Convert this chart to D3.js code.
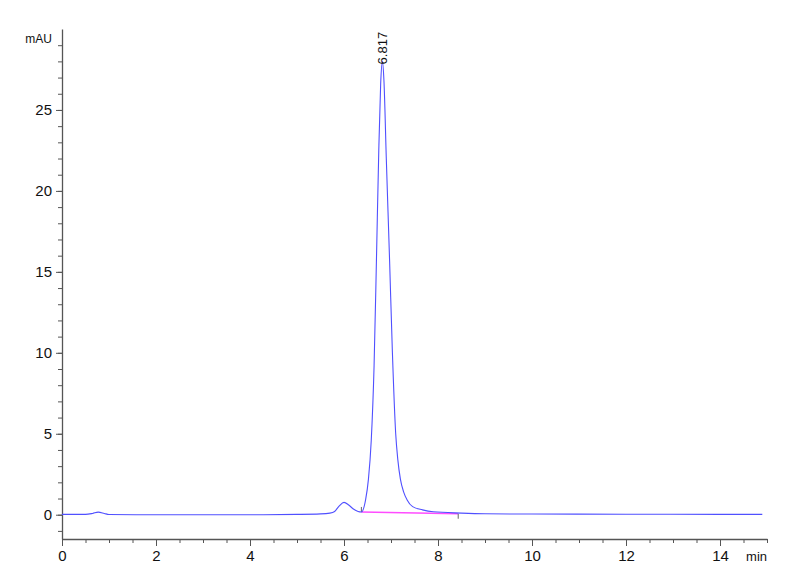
<!DOCTYPE html>
<html>
<head>
<meta charset="utf-8">
<script src="https://cdn.jsdelivr.net/npm/d3@7"></script>
<style>
    body { margin: 0; background: #fff; }
    .tick text { font-family: "Liberation Sans Narrow", "Liberation Sans", Arial, sans-serif; font-size: 15px; fill: #111; }
</style>
</head>
<body>
<script>
//retention time (min) and signal (mAU)
var times = [0, 0.5, 0.65, 0.77, 0.9, 1.0, 2, 3, 4, 5, 5.5, 5.7, 5.8, 5.9, 6.0, 6.1, 6.2, 6.3, 6.37,
    6.46, 6.52, 6.58, 6.64, 6.69, 6.74, 6.78, 6.817, 6.85, 6.9, 6.97, 7.03, 7.1, 7.145, 7.2, 7.27, 7.34, 7.46,
    7.67, 7.9, 8.5, 9, 10, 12, 14, 14.9];
var signal = [0.02, 0.02, 0.08, 0.16, 0.08, 0.01, 0.0, 0.0, 0.0, 0.02, 0.05, 0.1, 0.2, 0.55, 0.76, 0.6, 0.35, 0.2, 0.17,
    0.93, 2.2, 4.6, 9.2, 15.7, 22.5, 26.6, 28.0, 26.8, 22.0, 15.7, 10.0, 5.0, 3.4, 2.2, 1.4, 0.93, 0.5,
    0.3, 0.18, 0.1, 0.06, 0.04, 0.03, 0.02, 0.02];

//integration baseline under the main peak
var baseTimes = [6.37, 8.43];
var baseSignal = [0.17, 0.06];

//peak label
var peakTime = 6.817;
var peakHeight = 28.0;

var xTicks = [0, 2, 4, 6, 8, 10, 12, 14];
var yTicks = [0, 5, 10, 15, 20, 25];

var w = 800, h = 587;
var font = '"Liberation Sans", Arial, sans-serif';

var svg = d3.select("body").append("svg")
    .attr("width", w)
    .attr("height", h);

var x = d3.scaleLinear().domain([0, 15]).range([62, 767]);
var y = d3.scaleLinear().domain([-1.5, 30]).range([539, 29]);

//minor ticks first, then labelled axes on top
svg.append("g")
    .attr("transform", "translate(0,539)")
    .call(d3.axisBottom(x).tickValues(d3.range(0, 15.01, 0.5)).tickSize(4).tickFormat(""))
    .call(function(g){ g.select(".domain").remove(); })
    .selectAll("line").attr("stroke", "#555");

svg.append("g")
    .attr("transform", "translate(62,0)")
    .call(d3.axisLeft(y).tickValues(d3.range(-1, 30, 1)).tickSize(4).tickFormat(""))
    .call(function(g){ g.select(".domain").remove(); })
    .selectAll("line").attr("stroke", "#555");

var xAxis = svg.append("g")
    .attr("transform", "translate(0,539)")
    .call(d3.axisBottom(x).tickValues(xTicks).tickSize(7).tickSizeOuter(0).tickPadding(4));
xAxis.select(".domain").attr("stroke", "#555").attr("stroke-width", 1.3);
xAxis.selectAll(".tick line").attr("stroke", "#555");

var yAxis = svg.append("g")
    .attr("transform", "translate(62,0)")
    .call(d3.axisLeft(y).tickValues(yTicks).tickSize(6).tickSizeOuter(0).tickPadding(4));
yAxis.select(".domain").attr("stroke", "#555").attr("stroke-width", 1.3);
yAxis.selectAll(".tick line").attr("stroke", "#555");

//unit labels
svg.append("text")
    .attr("x", 52)
    .attr("y", 43)
    .attr("text-anchor", "end")
    .style("font-family", '"Liberation Sans Narrow", ' + font)
    .style("font-size", "12px")
    .style("fill", "#111")
    .text("mAU");

svg.append("text")
    .attr("x", 767)
    .attr("y", 561)
    .attr("text-anchor", "end")
    .style("font-family", '"Liberation Sans Narrow", ' + font)
    .style("font-size", "13px")
    .style("fill", "#111")
    .text("min");

//baseline (magenta) with its end markers
var basePts = baseTimes.map(function(t, i){ return [t, baseSignal[i]]; });
svg.append("path")
    .datum(basePts)
    .attr("fill", "none")
    .attr("stroke", "#ff4cff")
    .attr("stroke-width", 1.5)
    .attr("d", d3.line()
        .x(function(d){ return x(d[0]); })
        .y(function(d){ return y(d[1]); }));

svg.selectAll(".baseMark")
    .data(basePts)
    .enter()
    .append("line")
    .attr("class", "baseMark")
    .attr("x1", function(d){ return x(d[0]); })
    .attr("x2", function(d){ return x(d[0]); })
    .attr("y1", function(d, i){ return y(d[1]) + (i == 0 ? -5 : 0); })
    .attr("y2", function(d, i){ return y(d[1]) + (i == 0 ? 0 : 5); })
    .attr("stroke", "#666")
    .attr("stroke-width", 1);

//the chromatogram trace
var trace = times.map(function(t, i){ return [t, signal[i]]; });
svg.append("path")
    .datum(trace)
    .attr("fill", "none")
    .attr("stroke", "#5050ff")
    .attr("stroke-width", 1.1)
    .attr("d", d3.line()
        .curve(d3.curveMonotoneX)
        .x(function(d){ return x(d[0]); })
        .y(function(d){ return y(d[1]); }));

//rotated retention time label above the apex
svg.append("text")
    .attr("transform", "translate(" + (x(peakTime) + 5) + "," + (y(peakHeight) + 3) + ") rotate(-90)")
    .attr("text-anchor", "start")
    .style("font-family", font)
    .style("font-size", "13px")
    .style("fill", "#111")
    .text(peakTime.toFixed(3));
</script>
</body>
</html>
